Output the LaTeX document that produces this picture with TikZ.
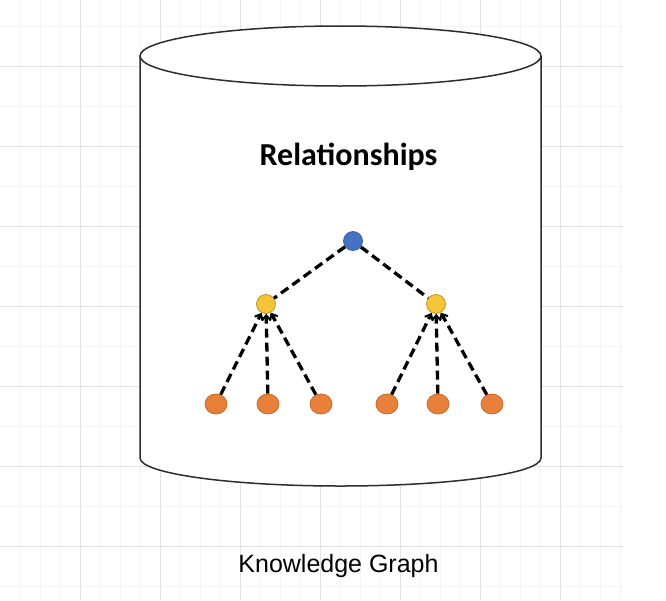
\documentclass[tikz,border=0pt]{standalone}
\usepackage{fontspec}
\usetikzlibrary{arrows.meta,shapes.geometric}
\newfontfamily\carlitofont{Carlito}
\newfontfamily\arialfont{Liberation Sans}
\definecolor{gridminor}{RGB}{244,244,244}
\definecolor{gridmajor}{RGB}{226,226,226}
\definecolor{cylline}{RGB}{45,45,45}
\definecolor{nblue}{RGB}{68,114,196}
\definecolor{nblueline}{RGB}{60,95,165}
\definecolor{nyellow}{RGB}{246,196,56}
\definecolor{nyellowline}{RGB}{190,150,40}
\definecolor{norange}{RGB}{232,128,58}
\definecolor{norangeline}{RGB}{200,105,45}
\tikzset{
  gnode/.style={circle, inner sep=0pt, minimum size=19pt, line width=0.8pt},
  rootnode/.style={gnode, fill=nblue, draw=nblueline},
  midnode/.style={gnode, fill=nyellow, draw=nyellowline},
  leafnode/.style={ellipse, inner sep=0pt, minimum width=22pt, minimum height=20pt, line width=0.8pt, fill=norange, draw=norangeline},
  dashedge/.style={line width=3.3pt, dash pattern=on 9pt off 5pt, black},
  arredge/.style={dashedge, -{Straight Barb[length=5pt,width=9pt,line width=2pt]}},
  cyl/.style={line width=1.5pt, draw=cylline, fill=white},
}
\begin{document}
\begin{tikzpicture}[x=1pt,y=-1pt]
\useasboundingbox (0,0) rectangle (666,600);
\fill[white] (0,0) rectangle (666,600);
% grid
\foreach \gx in {20,40,...,620} \draw[gridminor, line width=0.8pt] (\gx,0) -- (\gx,600);
\foreach \gy in {26,66,...,586} \draw[gridminor, line width=0.8pt] (0,\gy) -- (623,\gy);
\foreach \gx in {80,160,...,560} \draw[gridmajor, line width=1pt] (\gx,0) -- (\gx,600);
\foreach \gy in {66,146,...,546} \draw[gridmajor, line width=1pt] (0,\gy) -- (623,\gy);
% cylinder
\path[cyl] (140,56) -- (140,458) arc[start angle=180, end angle=360, x radius=200.5pt, y radius=28pt] -- (541,56);
\draw[cyl] (340.5,56) ellipse [x radius=200.5pt, y radius=30pt];
% title
\node[anchor=base, inner sep=0pt, font=\carlitofont\bfseries\fontsize{32}{36}\selectfont] (title) at (348.5,165) {Relationships};
% nodes
\node[rootnode] (r) at (353,241) {};
\node[midnode] (y1) at (266,304) {};
\node[midnode] (y2) at (436,304) {};
\node[leafnode] (o1) at (216,404) {};
\node[leafnode] (o2) at (268,404) {};
\node[leafnode] (o3) at (321,404) {};
\node[leafnode] (o4) at (387,404) {};
\node[leafnode] (o5) at (438,404) {};
\node[leafnode] (o6) at (492,404) {};
% edges
\draw[dashedge] (r) -- (y1);
\draw[dashedge] (r) -- (y2);
\draw[arredge] (o1) -- (y1);
\draw[arredge] (o2) -- (y1);
\draw[arredge] (o3) -- (y1);
\draw[arredge] (o4) -- (y2);
\draw[arredge] (o5) -- (y2);
\draw[arredge] (o6) -- (y2);
% caption
\node[anchor=base, inner sep=0pt, text=black, font=\arialfont\fontsize{25}{29}\selectfont] (cap) at (338.5,572) {Knowledge Graph};
\end{tikzpicture}
\end{document}
